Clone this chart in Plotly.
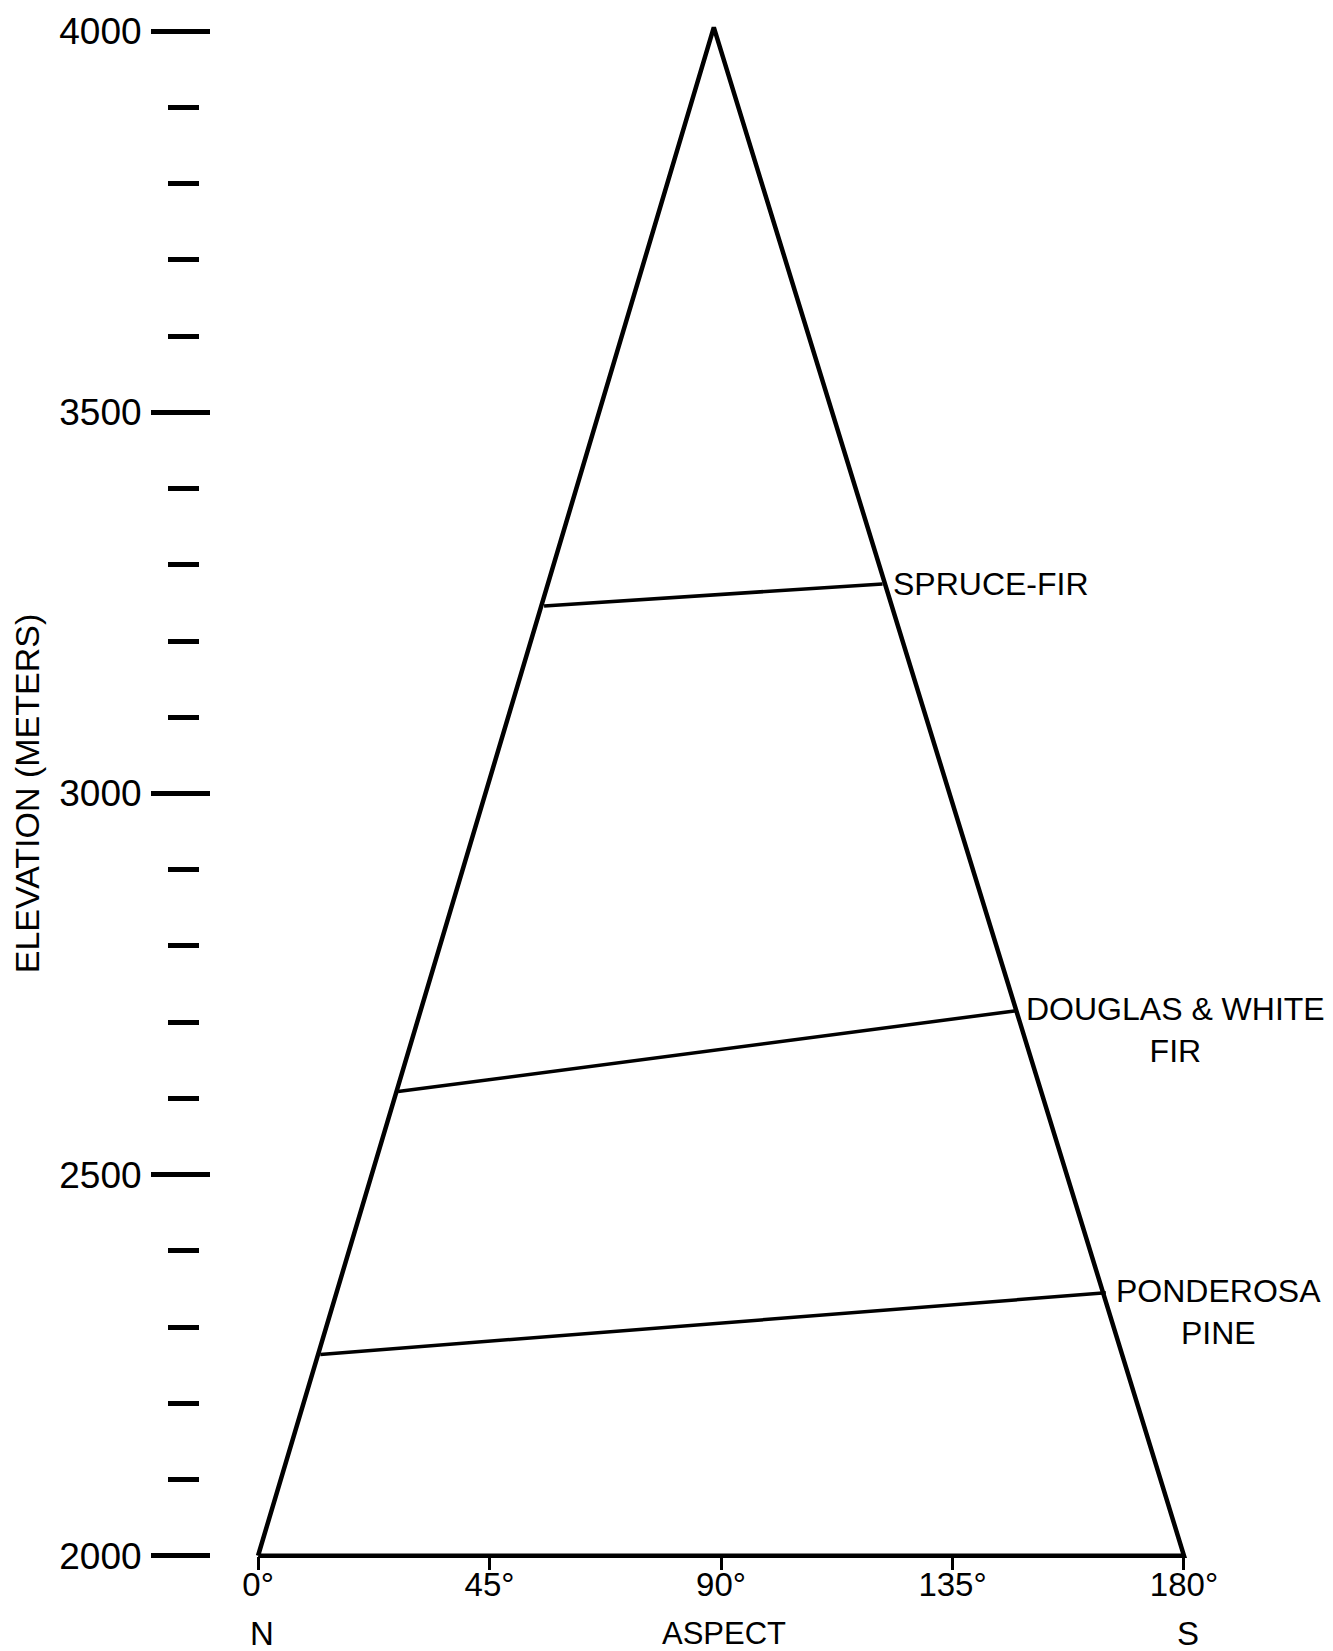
import plotly.graph_objects as go

# ---- data ----
aspect_ticks = [0, 45, 90, 135, 180]
aspect_ticktext = ["0°", "45°", "90°", "135°", "180°"]
compass_aspect = [0, 180]
compass_text = ["N", "S"]
elev_major = [2000, 2500, 3000, 3500, 4000]
elev_minor = [2100, 2200, 2300, 2400, 2600, 2700, 2800, 2900,
              3100, 3200, 3300, 3400, 3600, 3700, 3800, 3900]

# outline of the triangle (aspect in degrees, elevation in metres)
outline_aspect = [0, 88.6, 180, 0]
outline_elev = [2000, 4005, 2000, 2000]

# lower limits of the vegetation zones (north end -> south end)
zone_names = ["SPRUCE-FIR", "DOUGLAS & WHITE<br>FIR", "PONDEROSA<br>PINE"]
zone_aspect_north = [55.6, 27.2, 12.1]
zone_elev_north = [3246, 2609, 2264]
zone_aspect_south = [121.4, 147.4, 164.8]
zone_elev_south = [3275, 2715, 2345]

FONT = "Liberation Sans, Arial, sans-serif"
YTICK_FS = 37
XTICK_FS = 33
LABEL_FS = 32
TITLE_FS = 34

fig = go.Figure()

fig.add_trace(go.Scatter(
    x=outline_aspect, y=outline_elev, mode="lines",
    line=dict(color="black", width=4.5), hoverinfo="skip", showlegend=False))

for i, name in enumerate(zone_names):
    fig.add_trace(go.Scatter(
        x=[zone_aspect_north[i], zone_aspect_south[i]],
        y=[zone_elev_north[i], zone_elev_south[i]],
        mode="lines", line=dict(color="black", width=3.5),
        yaxis="y2" if i == 0 else "y",
        name=name.replace("<br>", " "), showlegend=False))
    two_lines = "<br>" in name
    fig.add_annotation(
        x=zone_aspect_south[i], y=zone_elev_south[i], xref="x", yref="y",
        text=name, showarrow=False, xanchor="left",
        yanchor="top" if two_lines else "middle",
        yshift=22 if two_lines else 0,
        xshift=8, align="center",
        font=dict(family=FONT, size=LABEL_FS, color="black"))

# compass directions under the end ticks and the axis name under 90°
for a, t in zip(compass_aspect, compass_text):
    fig.add_annotation(
        x=a, y=-0.0405, xref="x", yref="paper", text=t, showarrow=False,
        xanchor="center", yanchor="middle", xshift=4,
        font=dict(family=FONT, size=XTICK_FS, color="black"))
fig.add_annotation(
    x=90, y=-0.0405, xref="x", yref="paper", text="ASPECT", showarrow=False,
    xanchor="center", yanchor="middle", xshift=3,
    font=dict(family=FONT, size=31, color="black"))

fig.update_layout(
    width=1333, height=1651,
    margin=dict(l=0, r=0, t=16, b=80, autoexpand=False),
    paper_bgcolor="white", plot_bgcolor="white",
    font=dict(family=FONT, size=YTICK_FS, color="black"),
    xaxis=dict(
        domain=[0.1550, 0.9268], range=[-10, 190], automargin=False,
        showgrid=False, zeroline=False, showline=False,
        anchor="free", position=15 / 1555,
        tickmode="array", tickvals=aspect_ticks, ticktext=aspect_ticktext,
        ticks="outside", ticklen=13, tickwidth=3, tickcolor="black",
        ticklabelstandoff=-14,
        tickfont=dict(family=FONT, size=XTICK_FS, color="black"),
    ),
    yaxis=dict(
        range=[1980, 4020], anchor="free", position=185 / 1333,
        automargin=False,
        showgrid=False, zeroline=False, showline=False,
        tickmode="array", tickvals=elev_major,
        ticks="outside", ticklen=34, tickwidth=5, tickcolor="black",
        ticklabelstandoff=2,
        tickfont=dict(family=FONT, size=YTICK_FS, color="black"),
        minor=dict(tickmode="array", tickvals=elev_minor, ticks="outside",
                   ticklen=17, tickwidth=5, tickcolor="black", showgrid=False),
        title=dict(text="ELEVATION (METERS)", standoff=8,
                   font=dict(family=FONT, size=TITLE_FS, color="black")),
    ),
    yaxis2=dict(
        range=[1980, 4020], overlaying="y", anchor="free", position=179 / 1333,
        automargin=False,
        showgrid=False, zeroline=False, showline=False, showticklabels=False,
        tickmode="array", tickvals=elev_major,
        ticks="inside", ticklen=30, tickwidth=5, tickcolor="black",
        minor=dict(tickmode="array", tickvals=elev_minor, ticks="inside",
                   ticklen=19, tickwidth=5, tickcolor="black", showgrid=False),
    ),
)

# remove the browser's default 8px page margin so the figure fills the window
fig.write_html("out.html",
               config={"displayModeBar": False},
               post_script="document.body.style.margin='0';"
                           "document.body.style.overflow='hidden';")
